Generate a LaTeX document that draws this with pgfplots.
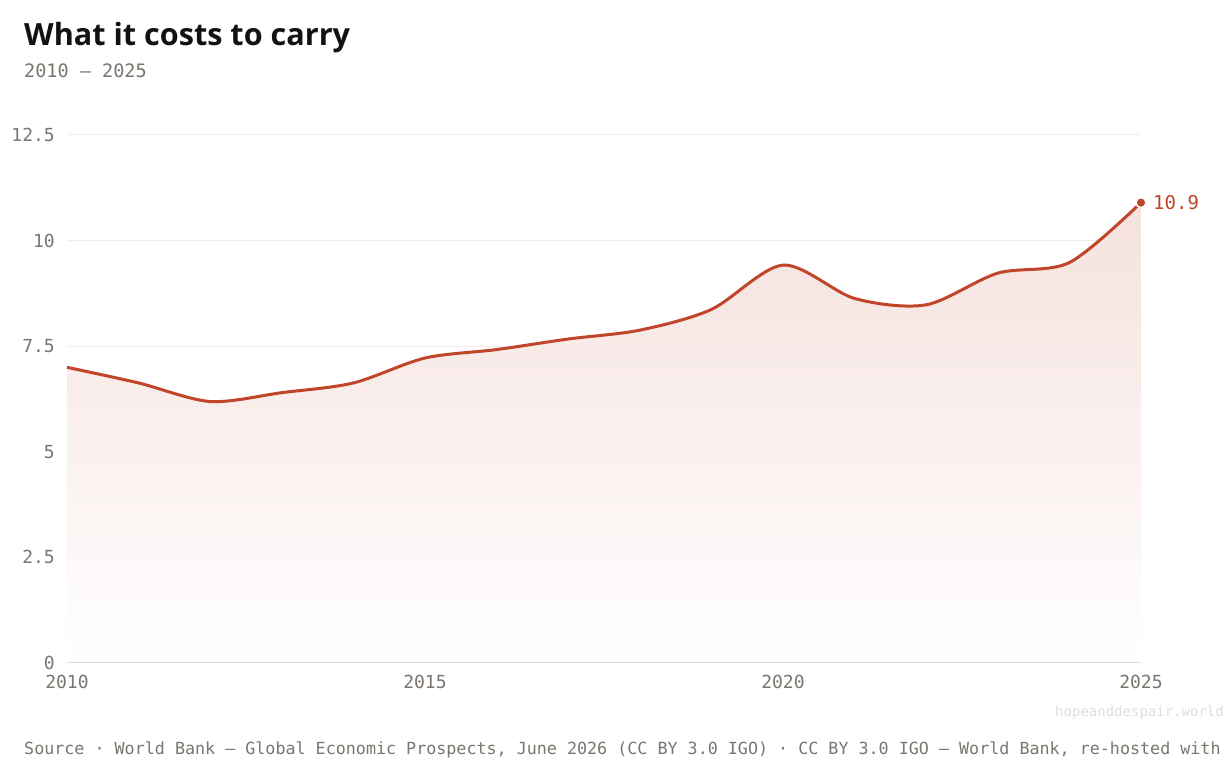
\documentclass[border=0pt]{standalone}
\usepackage{pgfplots}
\pgfplotsset{compat=1.18}
\usepackage{fontspec}
\setmainfont{Open Sans}
\newfontfamily\monofont{DejaVu Sans Mono}
\definecolor{linec}{RGB}{192,69,43}
\definecolor{tickc}{RGB}{122,117,110}
\definecolor{gridc}{RGB}{240,238,236}
\definecolor{basec}{RGB}{222,220,218}
\definecolor{titlec}{RGB}{20,18,16}
\definecolor{wmc}{RGB}{224,222,220}
\pgfplotstableread{
year val
2010 7.00
2011 6.63
2012 6.19
2013 6.40
2014 6.63
2015 7.22
2016 7.42
2017 7.67
2018 7.88
2019 8.37
2020 9.42
2021 8.63
2022 8.48
2023 9.23
2024 9.48
2025 10.90
}\datatable
\begin{document}
\begin{tikzpicture}
\path[use as bounding box] (0,0) rectangle (1227bp,771bp);
\node[anchor=base west, inner sep=0pt, font=\fontsize{30.6bp}{36bp}\selectfont\bfseries, text=titlec] at (24bp,725bp) {What it costs to carry};
\node[anchor=base west, inner sep=0pt, font=\fontsize{18.5bp}{22bp}\monofont, text=tickc] at (24bp,693bp) {2010 — 2025};
\node[anchor=base west, inner sep=0pt, font=\fontsize{16.7bp}{20bp}\monofont, text=tickc] at (24bp,17bp) {Source · World Bank — Global Economic Prospects, June 2026 (CC BY 3.0 IGO) · CC BY 3.0 IGO — World Bank, re-hosted with};
\node[anchor=base east, inner sep=0pt, font=\fontsize{14bp}{16bp}\monofont, text=wmc] at (1224bp,54bp) {hopeanddespair.world};
\begin{axis}[
  at={(67bp,108bp)}, anchor=south west,
  scale only axis, width=1074bp, height=528bp,
  xmin=2010, xmax=2025, ymin=0, ymax=12.5,
  axis line style={draw=none},
  axis x line*=bottom, axis y line*=left,
  major tick length=0pt,
  xtick={2010,2015,2020,2025},
  xticklabels={2010,2015,2020,2025},
  ytick={0,2.5,5,7.5,10,12.5},
  yticklabels={0,2.5,5,7.5,10,12.5},
  /pgf/number format/assume math mode=true,
  ymajorgrids, grid style={draw=gridc, line width=1bp},
  ticklabel style={font=\fontsize{18bp}{20bp}\monofont, text=tickc, inner sep=0pt},
  xticklabel style={anchor=north, yshift=-12bp},
  yticklabel style={anchor=east, xshift=-12bp},
  clip=false,
]
\addplot[draw=none, top color=linec!16!white, bottom color=white, smooth, tension=0.5] table[x=year,y=val]{\datatable} \closedcycle;
\draw[basec, line width=1bp] (axis cs:2010,0) -- (axis cs:2025,0);
\addplot[linec, line width=3bp, smooth, tension=0.5] table[x=year,y=val]{\datatable};
\addplot[only marks, mark=*, mark size=5bp, mark options={fill=linec, draw=white, line width=1.5bp}] coordinates {(2025,10.9)};
\node[anchor=west, inner sep=0pt, xshift=12bp, font=\fontsize{19bp}{22bp}\monofont, text=linec] at (axis cs:2025,10.9) {10.9};
\end{axis}
\end{tikzpicture}
\end{document}
